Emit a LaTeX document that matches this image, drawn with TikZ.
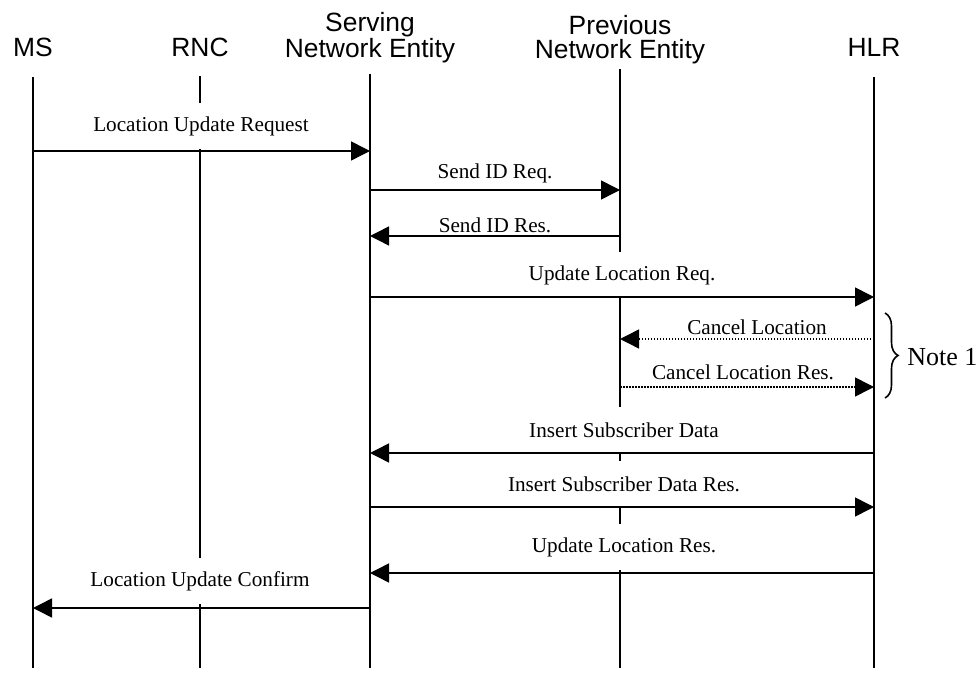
\documentclass[tikz,border=0pt]{standalone}
\usepackage{fontspec}
\setmainfont{Liberation Serif}
\setsansfont{Liberation Sans}
\usetikzlibrary{positioning, arrows.meta, decorations.pathreplacing}

\begin{document}
\begin{tikzpicture}[x=0.5pt, y=-0.5pt,
        entity/.style={font=\sffamily\fontsize{13.2}{12}\selectfont, align=center, anchor=base},
        life/.style={line width=0.75pt},
        msglabel/.style={font=\fontsize{10.6}{12}\selectfont, fill=white, inner xsep=2pt, minimum height=23pt},
        cancellabel/.style={font=\fontsize{10.6}{12}\selectfont, inner sep=1pt},
        msg/.style={line width=0.75pt, -{Triangle[length=9.5pt, width=9.5pt]}},
        cancelmsg/.style={msg, dash pattern=on 0.75pt off 0.75pt},
        notebrace/.style={decorate, decoration={brace, amplitude=6.5pt}, line width=0.8pt}]
      \useasboundingbox (0,0) rectangle (979,673);

      % Entities
      \node[entity] (ms) at (33,57) {MS};
      \node[entity] (rnc) at (200,57) {RNC};
      \node[entity] (sne) at (370,58) {Serving\\Network Entity};
      \node[entity] (pne) at (620,59) {Previous\\Network Entity};
      \node[entity] (hlr) at (874,57) {HLR};
      \coordinate (foot) at (0,668);

      % Lifelines
      \draw[life] (ms.base) ++(0,20) -- (ms |- foot);
      \draw[life] (rnc.base) ++(0,19) -- (rnc |- foot);
      \draw[life] (sne.base) ++(0,16) -- (sne |- foot);
      \draw[life] (pne.base) ++(0,10) -- (pne |- foot);
      \draw[life] (hlr.base) ++(0,20) -- (hlr |- foot);

      % Message rows
      \coordinate (r1) at (0,151);
      \coordinate (r2) at (0,190);
      \coordinate (r3) at (0,236);
      \coordinate (r4) at (0,297);
      \coordinate (r5) at (0,339);
      \coordinate (r6) at (0,387);
      \coordinate (r7) at (0,453);
      \coordinate (r8) at (0,507);
      \coordinate (r9) at (0,573);
      \coordinate (r10) at (0,608);

      % Labels
      \node[msglabel] (lur) at (201,126) {Location Update Request};
      \node[msglabel] (sidreq) at (495,173) {Send ID Req.};
      \node[msglabel] (sidres) at (495,225) {Send ID Res.};
      \node[msglabel] (ulreq) at (622,275) {Update Location Req.};
      \node[cancellabel] (cl) at (757,327) {Cancel Location};
      \node[cancellabel] (clres) at (743,372) {Cancel Location Res.};
      \node[msglabel] (isd) at (624,430) {Insert Subscriber Data};
      \node[msglabel] (isdres) at (624,484) {Insert Subscriber Data Res.};
      \node[msglabel] (ulres) at (624,547) {Update Location Res.};
      \node[msglabel] (luc) at (200,581) {Location Update Confirm};

      % Messages
      \draw[msg] (ms |- r1) -- (sne |- r1);
      \draw[msg] (sne |- r2) -- (pne |- r2);
      \draw[msg] (pne |- r3) -- (sne |- r3);
      \draw[msg] (sne |- r4) -- (hlr |- r4);
      \draw[cancelmsg] (hlr |- r5) -- (pne |- r5);
      \draw[cancelmsg] (pne |- r6) -- (hlr |- r6);
      \draw[msg] (hlr |- r7) -- (sne |- r7);
      \draw[msg] (sne |- r8) -- (hlr |- r8);
      \draw[msg] (hlr |- r9) -- (sne |- r9);
      \draw[msg] (sne |- r10) -- (ms |- r10);

      % Note
      \coordinate (ntop) at (885,313);
      \coordinate (nbot) at (885,398);
      \draw[notebrace] (ntop) -- (nbot);
      \node[font=\fontsize{13}{15}\selectfont, anchor=west, inner sep=0pt] (note) at (907,357) {Note 1};
\end{tikzpicture}
\end{document}
